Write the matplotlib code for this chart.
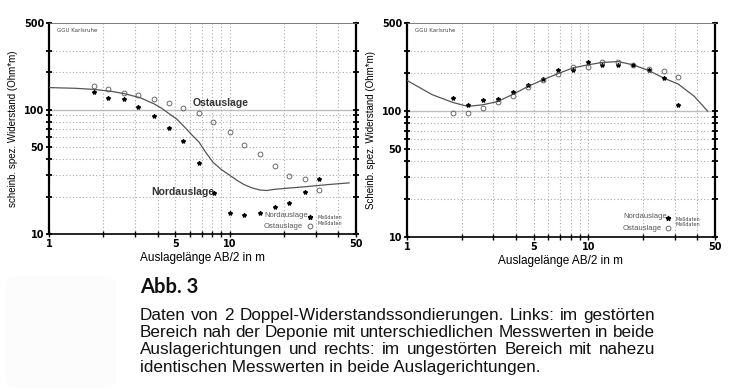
import numpy as np
import matplotlib
matplotlib.use('Agg')
import matplotlib.pyplot as plt
from matplotlib.patches import FancyBboxPatch

# --- Daten ---
# links: gestoerter Bereich
l_ab2 = [1.77, 2.13, 2.61, 3.11, 3.80, 4.62, 5.53, 6.78, 8.18, 10.0, 12.0, 14.7, 17.7, 21.3, 26.0, 31.4]
l_nord = [139, 125, 122, 106, 89, 71, 55.7, 37.2, 21.2, 14.8, 14.3, 14.8, 16.6, 17.9, 21.8, 27.7]
l_ost_ab2 = [1.77, 2.13, 2.61, 3.11, 3.80, 4.62, 5.54, 6.78, 8.08, 10.0, 12.0, 14.7, 17.7, 21.4, 26.0, 31.4]
l_ost = [156, 148, 136, 131, 123, 114, 104, 94, 80, 66.7, 52, 44.3, 35.6, 29.4, 27.7, 22.7]
l_model_ab2 = [1.0, 1.4, 1.77, 2.2, 2.61, 3.2, 3.8, 4.2, 4.62, 5.1, 5.53, 6.1, 6.78, 7.4, 8.1, 9.0, 10.0, 11.0, 12.0, 13.3, 14.7, 16.0, 17.7, 21.0, 26.0, 35.0, 45.8]
l_model = [151, 149, 146, 141, 135, 125, 112, 103, 93, 84, 74.6, 64, 54.7, 45, 37.7, 33, 29.7, 27, 25.0, 23.5, 22.6, 22.4, 22.9, 23.4, 24.0, 25.0, 25.8]

# rechts: ungestoerter Bereich
r_ab2 = [1.79, 2.16, 2.61, 3.16, 3.85, 4.66, 5.62, 6.80, 8.23, 10.0, 11.9, 14.6, 17.6, 21.5, 26.0, 31.3]
r_nord = [126, 112, 123, 124, 141, 160, 180, 213, 213, 245, 231, 233, 232, 213, 182, 111]
r_ost = [95.8, 95.8, 105, 119, 132, 155, 177, 196, 224, 222, 245, 247, 233, 216, 207, 185]
r_model_ab2 = [1.0, 1.375, 1.79, 2.16, 2.61, 3.16, 3.85, 4.66, 5.62, 6.80, 8.23, 10.0, 11.9, 14.6, 17.6, 21.5, 26.0, 31.3, 38.4, 45.5]
r_model = [175, 135, 117, 109, 112, 119, 136, 157, 177, 198, 220, 233, 243, 247, 233, 210, 183, 164, 131, 100]

y_labels = [10, 50, 100, 500]
y_grid = [20, 30, 40, 50, 60, 70, 80, 90, 200, 300]
x_labels = [1, 5, 10, 50]
x_grid = [2, 3, 4, 5, 6, 7, 8, 9, 10, 20, 30, 40]

caption = [
    "Daten von 2 Doppel-Widerstandssondierungen. Links: im gestörten",
    "Bereich nah der Deponie mit unterschiedlichen Messwerten in beide",
    "Auslagerichtungen und rechts: im ungestörten Bereich mit nahezu",
    "identischen Messwerten in beide Auslagerichtungen.",
]

W, H = 734, 390
fig = plt.figure(figsize=(W / 100, H / 100), dpi=100)
fig.patch.set_facecolor('white')

# sehr heller grauer Kasten links unten
fig.patches.append(FancyBboxPatch((6 / W, 2 / H), 110 / W, 112 / H,
                                  boxstyle='round,pad=0,rounding_size=0.02',
                                  transform=fig.transFigure, facecolor='#fcfcfc',
                                  edgecolor='none', zorder=0))


def setup_axes(ax, ylabel):
    ax.set_xscale('log')
    ax.set_yscale('log')
    ax.set_xlim(1, 50)
    ax.set_ylim(10, 500)
    for v in y_grid:
        ax.axhline(v, color='#ababab', linestyle=(0, (1, 2)), linewidth=0.8, zorder=1)
    ax.axhline(100, color='#bdbdbd', linestyle='-', linewidth=1.0, zorder=1)
    for v in x_grid:
        ax.axvline(v, color='#ababab', linestyle=(0, (1, 2)), linewidth=0.8, zorder=1)

    ax.set_yticks(y_labels)
    ax.set_yticklabels([str(v) for v in y_labels])
    ax.set_yticks([v for v in y_grid if v not in y_labels] + [100], minor=True)
    ax.set_xticks(x_labels)
    ax.set_xticklabels([str(v) for v in x_labels])
    ax.set_xticks(x_grid, minor=True)
    ax.yaxis.set_minor_formatter(plt.NullFormatter())
    ax.xaxis.set_minor_formatter(plt.NullFormatter())
    ax.tick_params(axis='y', which='both', direction='inout', length=5, width=1.3,
                   left=True, right=True, labelsize=7, pad=1)
    ax.tick_params(axis='x', which='both', direction='inout', length=5, width=1.0,
                   bottom=True, top=False, labelsize=7, pad=1)
    for lab in ax.get_xticklabels() + ax.get_yticklabels():
        lab.set_fontweight('bold')

    ax.spines['left'].set_linewidth(1.6)
    ax.spines['right'].set_linewidth(1.6)
    ax.spines['bottom'].set_linewidth(1.2)
    ax.spines['top'].set_linewidth(0.6)
    ax.spines['top'].set_color('#666666')

    ax.set_xlabel('Auslagelänge AB/2 in m', fontsize=8.5, family='Liberation Sans', labelpad=2)
    ax.set_ylabel(ylabel, fontsize=7, family='Liberation Sans', labelpad=4)
    ax.text(0.025, 0.975, 'GGU Karlsruhe', transform=ax.transAxes, fontsize=4,
            color='#444444', va='top', ha='left')


def legend_block(ax, xt, xm, y1, y2):
    ax.text(xt, y1, 'Nordauslage', transform=ax.transAxes, fontsize=5.5,
            color='#555555', va='center', family='Liberation Sans')
    ax.text(xt, y2, 'Ostauslage', transform=ax.transAxes, fontsize=5.5,
            color='#555555', va='center', family='Liberation Sans')
    ax.plot([xm], [y1 - 0.008], marker='*', color='black', markersize=3.5,
            linestyle='none', transform=ax.transAxes, clip_on=False)
    ax.plot([xm], [y2], marker='o', mfc='none', mec='#555555', markersize=3.5,
            mew=0.6, linestyle='none', transform=ax.transAxes, clip_on=False)
    ax.text(xm + 0.025, y1 - 0.012, 'Meßdaten', transform=ax.transAxes, fontsize=3.5,
            color='#444444', va='center')
    ax.text(xm + 0.025, y1 - 0.038, 'Meßdaten', transform=ax.transAxes, fontsize=3.5,
            color='#444444', va='center')


# linkes Diagramm
ax1 = fig.add_axes([49 / W, 1 - 234 / H, 307 / W, 211 / H])
setup_axes(ax1, 'scheinb. spez. Widerstand (Ohm*m)')
ax1.plot(l_model_ab2, l_model, color='#555555', linewidth=0.9, zorder=3)
ax1.plot(l_ab2, l_nord, linestyle='none', marker='*', color='black', markersize=3, zorder=4)
ax1.plot(l_ost_ab2, l_ost, linestyle='none', marker='o', mfc='none', mec='#555555',
         markersize=3.5, mew=0.6, zorder=4)
ax1.text(6.2, 113, 'Ostauslage', fontsize=7.5, fontweight='bold', color='#333333',
         va='center', ha='left', family='Liberation Sans')
ax1.text(3.7, 21.8, 'Nordauslage', fontsize=7.5, fontweight='bold', color='#333333',
         va='center', ha='left', family='Liberation Sans')
legend_block(ax1, 0.700, 0.850, 0.088, 0.036)

# rechtes Diagramm
ax2 = fig.add_axes([407 / W, 1 - 237 / H, 308 / W, 214 / H])
setup_axes(ax2, 'Scheinb. spez. Widerstand (Ohm*m)')
ax2.plot(r_model_ab2, r_model, color='#555555', linewidth=0.9, zorder=3)
ax2.plot(r_ab2, r_nord, linestyle='none', marker='*', color='black', markersize=3, zorder=4)
ax2.plot(r_ab2, r_ost, linestyle='none', marker='o', mfc='none', mec='#555555',
         markersize=3.5, mew=0.6, zorder=4)
legend_block(ax2, 0.701, 0.847, 0.096, 0.042)

# Bildunterschrift
fig.text(140 / W, 1 - 293 / H, 'Abb. 3', fontsize=14.5, fontweight='bold',
         family='Lato', va='baseline', ha='left', color='#111111')

renderer = fig.canvas.get_renderer()
x0, x1 = 140, 655
baselines = [320, 337.2, 354.4, 371.6]
cap_size = 12.3
for i, (line, yb) in enumerate(zip(caption, baselines)):
    y = 1 - yb / H
    if i == len(caption) - 1:
        fig.text(x0 / W, y, line, fontsize=cap_size, family='Liberation Sans',
                 va='baseline', ha='left', color='#111111')
        continue
    words = line.split(' ')
    texts = [fig.text(0, y, w, fontsize=cap_size, family='Liberation Sans',
                      va='baseline', ha='left', color='#111111') for w in words]
    widths = [t.get_window_extent(renderer).width for t in texts]
    gap = ((x1 - x0) - sum(widths)) / (len(words) - 1)
    x = x0
    for t, w in zip(texts, widths):
        t.set_x(x / W)
        x += w + gap

fig.savefig('out.png', dpi=100, facecolor='white')
